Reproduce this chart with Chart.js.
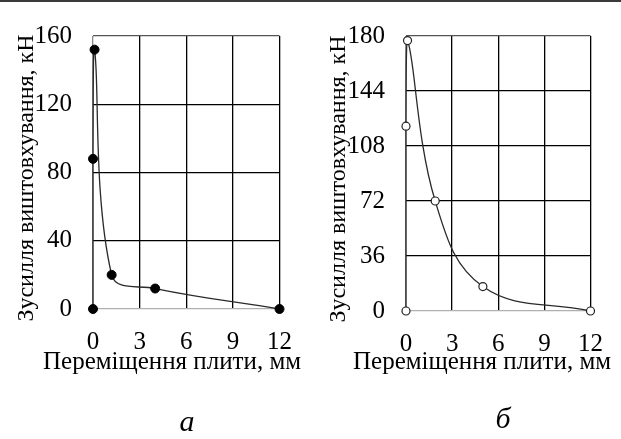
<!DOCTYPE html>
<html>
<head>
<meta charset="utf-8">
<script src="https://cdn.jsdelivr.net/npm/chart.js@4/dist/chart.umd.min.js"></script>
<style>
  html, body { margin: 0; padding: 0; background: #fff; }
  #wrap { position: relative; width: 621px; height: 439px; overflow: hidden; background: #fff; }
  #topline { position: absolute; left: 0; top: 0; width: 621px; height: 2px; background: #3a3a3a; }
  #cA { position: absolute; left: 0; top: 0; }
  #cB { position: absolute; left: 310px; top: 0; }
</style>
</head>
<body>
<div id="wrap">
  <div id="topline"></div>
  <canvas id="cA" width="310" height="439"></canvas>
  <canvas id="cB" width="311" height="439"></canvas>
</div>
<script>
// ---- data ----
const xTicks = [0, 3, 6, 9, 12];
const yTicksA = [0, 40, 80, 120, 160];
const yTicksB = [0, 36, 72, 108, 144, 180];

const dispA = [0, 0, 0.1, 1.2, 4, 12];
const forceA = [0, 88, 152, 20, 12, 0];

const dispB = [0, 0, 0.1, 1.9, 5, 12];
const forceB = [0, 121, 177, 72, 16, 0];

const yTitle = 'Зусилля виштовхування, кН';
const xTitle = 'Переміщення плити, мм';
const letterA = 'а';
const letterB = 'б';

const FONT = '"Liberation Serif", "Times New Roman", serif';

const titlePlugin = {
  id: 'freeTitles',
  afterDraw(chart, args, opts) {
    const ctx = chart.ctx;
    ctx.save();
    ctx.fillStyle = '#000';
    ctx.textAlign = 'center';
    ctx.textBaseline = 'middle';
    // y title
    ctx.save();
    ctx.translate(opts.yX, opts.yY);
    ctx.rotate(-Math.PI / 2);
    ctx.font = '24px ' + FONT;
    ctx.fillText(opts.yText, 0, 0);
    ctx.restore();
    // x title
    ctx.font = '25px ' + FONT;
    ctx.fillText(opts.xText, opts.xX, opts.xY);
    // letter
    ctx.font = 'italic 30px ' + FONT;
    ctx.fillText(opts.letter, opts.lX, opts.lY);
    ctx.restore();
  }
};

function makeChart(id, xs, ys, yTicks, padTop, padRight, yWidth, xHeight, filled, titles) {
  const yMax = yTicks[yTicks.length - 1];
  return new Chart(document.getElementById(id), {
    type: 'scatter',
    data: {
      datasets: [{
        data: xs.map((x, i) => ({ x: x, y: ys[i] })),
        showLine: true,
        tension: 0.4,
        borderColor: '#2a2a2a',
        borderWidth: 1.3,
        pointRadius: filled ? 4.5 : 4,
        pointBackgroundColor: filled ? '#000' : '#fff',
        pointBorderColor: filled ? '#000' : '#222',
        pointBorderWidth: filled ? 1 : 1.2,
        clip: false
      }]
    },
    options: {
      responsive: false,
      animation: false,
      events: [],
      layout: { padding: { left: 0, top: padTop, right: padRight, bottom: 0 } },
      plugins: {
        legend: { display: false },
        tooltip: { enabled: false },
        freeTitles: titles
      },
      scales: {
        x: {
          type: 'linear',
          min: xTicks[0],
          max: xTicks[xTicks.length - 1],
          afterFit(s) { s.height = xHeight; },
          afterBuildTicks(s) { s.ticks = xTicks.map(v => ({ value: v })); },
          border: { display: false },
          grid: {
            drawTicks: false,
            color: c => (c.tick && c.tick.value === 0) ? '#8a8a8a' : '#000',
            lineWidth: 1.3
          },
          ticks: {
            padding: 18,
            color: '#000',
            font: { family: FONT, size: 25 },
            maxRotation: 0
          }
        },
        y: {
          type: 'linear',
          min: 0,
          max: yMax,
          afterFit(s) { s.width = yWidth; },
          afterBuildTicks(s) { s.ticks = yTicks.map(v => ({ value: v })); },
          border: { display: false },
          grid: {
            drawTicks: false,
            color: c => (c.tick && c.tick.value === 0) ? '#b0b0b0' : ((c.tick && c.tick.value === yMax) ? '#555' : '#000'),
            lineWidth: 1.3
          },
          ticks: {
            padding: 21,
            color: '#000',
            font: { family: FONT, size: 25 }
          }
        }
      }
    },
    plugins: [titlePlugin]
  });
}

makeChart('cA', dispA, forceA, yTicksA, 20, 25, 93, 130, true,
  { yText: yTitle, yX: 27, yY: 178, xText: xTitle, xX: 172, xY: 362, letter: letterA, lX: 187, lY: 423 });
makeChart('cB', dispB, forceB, yTicksB, 22, 24, 96, 128, false,
  { yText: yTitle, yX: 29, yY: 179, xText: xTitle, xX: 172, xY: 362, letter: letterB, lX: 193, lY: 420 });
</script>
</body>
</html>
